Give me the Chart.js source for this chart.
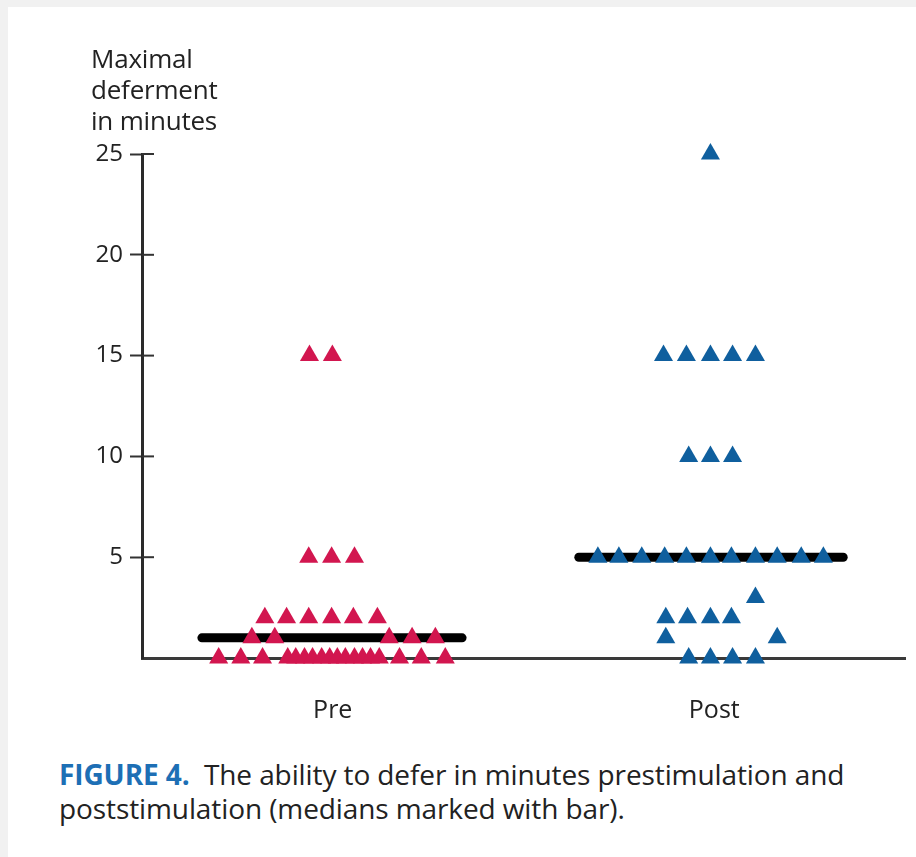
<!DOCTYPE html>
<html lang="en">
  <head>
    <meta charset="UTF-8" />
    <title>Figure 4</title>
    <script src="https://cdn.jsdelivr.net/npm/chart.js@4.4.0/dist/chart.umd.min.js"></script>
    <style>
      body {
        margin: 0;
        background: #f1f1f1;
        font-family: "Open Sans", sans-serif;
        color: #222;
      }
      #panel {
        position: absolute;
        left: 8px;
        top: 7px;
        width: 908px;
        height: 850px;
        background: #fff;
      }
      #wrap {
        position: absolute;
        left: 0;
        top: 0;
        width: 916px;
        height: 740px;
      }
      #yTitle {
        position: absolute;
        left: 91px;
        top: 43px;
        font-size: 26px;
        line-height: 31px;
        letter-spacing: -0.2px;
      }
      #caption {
        position: absolute;
        left: 59px;
        top: 757px;
        font-size: 28px;
        line-height: 34px;
        letter-spacing: -0.1px;
        white-space: nowrap;
      }
      #caption b {
        color: #1d6fb5;
      }
    </style>
  </head>
  <body>
    <div id="panel"></div>
    <div id="wrap"><canvas id="chart" width="916" height="740"></canvas></div>
    <div id="yTitle">Maximal<br />deferment<br />in minutes</div>
    <div id="caption">
      <b>FIGURE 4.</b>&nbsp; The ability to defer in minutes prestimulation and<br />
      poststimulation (medians marked with bar).
    </div>

    <script>
      // categories on the x axis (Pre = 1, Post = 2)
      const categories = ["Pre", "Post"];
      const yTicks = [0, 5, 10, 15, 20, 25];

      // Pre: minutes and the horizontal spot of each triangle
      const preY = [
        15, 15,
        5, 5, 5,
        2, 2, 2, 2, 2, 2,
        1, 1, 1, 1, 1,
        0, 0, 0, 0, 0, 0, 0, 0, 0, 0, 0, 0, 0, 0, 0, 0, 0, 0,
      ];
      const preX = [
        0.939, 0.999,
        0.937, 0.997, 1.057,
        0.822, 0.879, 0.937, 0.997, 1.054, 1.117,
        0.788, 0.848, 1.148, 1.208, 1.269,
        0.701, 0.759, 0.816, 0.882, 0.903, 0.926, 0.947, 0.971, 0.992,
        1.012, 1.033, 1.057, 1.078, 1.099, 1.122, 1.175, 1.232, 1.295,
      ];

      // Post
      const postY = [
        25,
        15, 15, 15, 15, 15,
        10, 10, 10,
        5, 5, 5, 5, 5, 5, 5, 5, 5, 5, 5,
        3,
        2, 2, 2, 2,
        1, 1,
        0, 0, 0, 0,
      ];
      const postX = [
        1.99,
        1.867, 1.927, 1.99, 2.048, 2.108,
        1.933, 1.99, 2.048,
        1.695, 1.75, 1.81, 1.87, 1.927, 1.99, 2.045, 2.108, 2.165, 2.228, 2.286,
        2.108,
        1.873, 1.93, 1.99, 2.045,
        1.873, 2.165,
        1.933, 1.99, 2.048, 2.108,
      ];

      // medians and the span of the median bars
      const medians = [1, 5];
      const preBarX = [0.657, 1.339];
      const postBarX = [1.645, 2.338];

      const toPoints = (xs, ys) => xs.map((x, i) => ({ x: x, y: ys[i] }));

      // inner half of the y axis tick marks (they cross the axis line)
      const innerTicks = {
        id: "innerTicks",
        afterDraw(chart) {
          const y = chart.scales.y;
          const ctx = chart.ctx;
          ctx.save();
          ctx.strokeStyle = "#333";
          ctx.lineWidth = 2;
          y.ticks.forEach((t) => {
            if (t.value === 0) return;
            const py = y.getPixelForValue(t.value);
            ctx.beginPath();
            ctx.moveTo(y.right, py);
            ctx.lineTo(y.right + 12, py);
            ctx.stroke();
          });
          ctx.restore();
        },
      };

      const ctx = document.getElementById("chart").getContext("2d");
      const chart = new Chart(ctx, {
        type: "scatter",
        data: {
          datasets: [
            {
              label: "Pre",
              data: toPoints(preX, preY),
              pointStyle: "triangle",
              pointRadius: 11,
              pointHoverRadius: 11,
              backgroundColor: "#d2164f",
              borderColor: "#d2164f",
              borderWidth: 0,
              order: 1,
            },
            {
              label: "Post",
              data: toPoints(postX, postY),
              pointStyle: "triangle",
              pointRadius: 11,
              pointHoverRadius: 11,
              backgroundColor: "#0f5f9e",
              borderColor: "#0f5f9e",
              borderWidth: 0,
              order: 1,
            },
            {
              type: "line",
              label: "Pre median",
              data: preBarX.map((x) => ({ x: x, y: medians[0] })),
              borderColor: "#000",
              borderWidth: 9,
              borderCapStyle: "round",
              pointRadius: 0,
              order: 2,
            },
            {
              type: "line",
              label: "Post median",
              data: postBarX.map((x) => ({ x: x, y: medians[1] })),
              borderColor: "#000",
              borderWidth: 9,
              borderCapStyle: "round",
              pointRadius: 0,
              order: 2,
            },
          ],
        },
        options: {
          responsive: false,
          animation: false,
          clip: false,
          layout: {
            padding: { top: 154, right: 9, left: 0, bottom: 0 },
          },
          plugins: {
            legend: { display: false },
            tooltip: { enabled: false },
          },
          scales: {
            x: {
              type: "linear",
              min: 0.5,
              max: 2.5,
              afterBuildTicks: (scale) => {
                scale.ticks = categories.map((c, i) => ({ value: i + 1 }));
              },
              afterFit: (scale) => {
                scale.height = 82;
              },
              grid: { display: false, drawTicks: false },
              border: { display: true, color: "#3a3a3a", width: 3 },
              ticks: {
                padding: 38,
                color: "#222",
                font: { family: "Open Sans", size: 25 },
                callback: (v) => categories[v - 1] || "",
              },
            },
            y: {
              min: 0,
              max: 25,
              afterBuildTicks: (scale) => {
                scale.ticks = yTicks.map((v) => ({ value: v }));
              },
              afterFit: (scale) => {
                scale.width = 142;
              },
              grid: {
                drawOnChartArea: false,
                drawTicks: true,
                tickLength: 12,
                tickWidth: 2,
                tickColor: (c) => (c.tick && c.tick.value === 0 ? "rgba(0,0,0,0)" : "#333"),
              },
              border: { display: true, color: "#2a2a2a", width: 3 },
              ticks: {
                padding: 7,
                color: "#222",
                font: { family: "Open Sans", size: 24 },
                callback: (v) => (v === 0 ? "" : v),
              },
            },
          },
        },
        plugins: [innerTicks],
      });
    </script>
  </body>
</html>
